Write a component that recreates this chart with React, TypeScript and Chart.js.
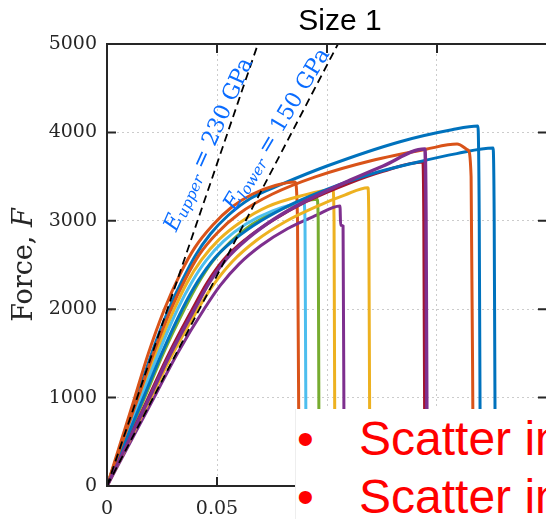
import React, { useEffect, useRef } from 'react';
import { Chart, registerables } from 'chart.js';
Chart.register(...registerables);

// ---- data ----
const xTickLabels = ['0', '0.05', '0.1', '0.15', '0.2'];
const yTickLabels = ['0', '1000', '2000', '3000', '4000', '5000'];
const titleText = 'Size 1';
const yTitleMain = 'Force, ';
const yTitleVar = 'F';
const upperLabel = ['E', 'upper', ' = 230 GPa'];
const lowerLabel = ['E', 'lower', ' = 150 GPa'];
const upperLabelAt = { x: 0.0465, y: 3860 };
const lowerLabelAt = { x: 0.0775, y: 4030 };
const bulletLines = ['Scatter in', 'Scatter in'];

const seriesColors = ['#0072BD', '#D95319', '#EDB120', '#7E2F8E', '#77AC30', '#4DBEEE', '#A2142F', '#0072BD', '#D95319', '#EDB120', '#7E2F8E'];
const seriesWidths = [3, 3, 3, 3, 3, 3, 3, 3, 3, 3, 3.5];

const c1Strain = [0, 0.0068, 0.0136, 0.0203, 0.0281, 0.0343, 0.04, 0.047, 0.055, 0.065, 0.08, 0.1, 0.1332, 0.1568, 0.1686, 0.1692, 0.1697];
const c1Force = [0, 500, 1000, 1500, 2000, 2330, 2600, 2850, 3060, 3250, 3420, 3620, 3895, 4030, 4072, 3000, 0];
const c2Strain = [0, 0.0063, 0.0126, 0.0188, 0.0261, 0.0333, 0.04, 0.048, 0.0565, 0.066, 0.0765, 0.0855, 0.0866, 0.0873];
const c2Force = [0, 500, 1000, 1500, 2000, 2400, 2700, 2950, 3150, 3300, 3400, 3440, 3000, 0];
const c3Strain = [0, 0.0074, 0.0148, 0.0222, 0.0306, 0.0364, 0.043, 0.051, 0.061, 0.073, 0.088, 0.1027, 0.1032, 0.1036];
const c3Force = [0, 500, 1000, 1500, 2000, 2300, 2560, 2790, 2990, 3160, 3280, 3350, 3000, 0];
const c4Strain = [0, 0.0107, 0.0214, 0.032, 0.0441, 0.0515, 0.06, 0.07, 0.082, 0.095, 0.1059, 0.1062, 0.1073, 0.1078];
const c4Force = [0, 500, 1000, 1500, 2000, 2270, 2510, 2720, 2910, 3060, 3167, 2950, 2940, 0];
const c5Strain = [0, 0.0085, 0.0171, 0.0256, 0.0352, 0.0414, 0.048, 0.056, 0.066, 0.079, 0.0955, 0.096, 0.0964];
const c5Force = [0, 500, 1000, 1500, 2000, 2290, 2540, 2760, 2960, 3130, 3245, 3000, 0];
const c6Strain = [0, 0.0078, 0.0156, 0.0234, 0.0321, 0.0384, 0.045, 0.053, 0.063, 0.075, 0.0895, 0.09, 0.0905];
const c6Force = [0, 500, 1000, 1500, 2000, 2300, 2550, 2770, 2960, 3110, 3200, 3000, 0];
const c7Strain = [0, 0.0094, 0.0188, 0.0282, 0.0388, 0.0455, 0.053, 0.063, 0.075, 0.09, 0.1105, 0.1255, 0.1436, 0.144, 0.1445];
const c7Force = [0, 500, 1000, 1500, 2000, 2300, 2560, 2790, 3000, 3210, 3430, 3560, 3665, 3000, 0];
const c8Strain = [0, 0.0083, 0.0166, 0.0249, 0.0342, 0.0414, 0.049, 0.058, 0.07, 0.085, 0.1014, 0.12, 0.1405, 0.159, 0.1755, 0.176, 0.1765];
const c8Force = [0, 500, 1000, 1500, 2000, 2320, 2580, 2790, 3000, 3200, 3370, 3530, 3660, 3760, 3823, 3000, 0];
const c9Strain = [0, 0.007, 0.0141, 0.0211, 0.0291, 0.0354, 0.042, 0.05, 0.06, 0.075, 0.095, 0.12, 0.145, 0.1591, 0.1641, 0.1655, 0.1665];
const c9Force = [0, 500, 1000, 1500, 2000, 2330, 2620, 2860, 3080, 3300, 3500, 3680, 3810, 3868, 3800, 3500, 0];
const c10Strain = [0, 0.01, 0.02, 0.03, 0.0413, 0.0485, 0.057, 0.068, 0.081, 0.096, 0.108, 0.1186, 0.119, 0.1195];
const c10Force = [0, 500, 1000, 1500, 2000, 2280, 2540, 2780, 2990, 3170, 3290, 3375, 3000, 0];
const c11Strain = [0, 0.0097, 0.0193, 0.0289, 0.0398, 0.0465, 0.054, 0.064, 0.076, 0.09, 0.1105, 0.1255, 0.1445, 0.145, 0.1455];
const c11Force = [0, 500, 1000, 1500, 2000, 2300, 2560, 2800, 3020, 3220, 3460, 3620, 3812, 3000, 0];

const curveStrains = [c1Strain, c2Strain, c3Strain, c4Strain, c5Strain, c6Strain, c7Strain, c8Strain, c9Strain, c10Strain, c11Strain];
const curveForces = [c1Force, c2Force, c3Force, c4Force, c5Force, c6Force, c7Force, c8Force, c9Force, c10Force, c11Force];

const upperStrain = [0, 0.0686];
const upperForce = [0, 5000];
const lowerStrain = [0, 0.105];
const lowerForce = [0, 5000];

const AXIS_COLOR = '#262626';
const SERIF = '"DejaVu Serif", serif';

function drawParts(ctx: CanvasRenderingContext2D, cx: number, cy: number, angle: number, parts: { t: string; f: string; dy: number }[], color: string) {
  ctx.save();
  ctx.translate(cx, cy);
  ctx.rotate((angle * Math.PI) / 180);
  let total = 0;
  parts.forEach((p) => { ctx.font = p.f; total += ctx.measureText(p.t).width; });
  let xx = -total / 2;
  ctx.textBaseline = 'middle';
  ctx.textAlign = 'left';
  ctx.fillStyle = color;
  parts.forEach((p) => { ctx.font = p.f; ctx.fillText(p.t, xx, p.dy); xx += ctx.measureText(p.t).width; });
  ctx.restore();
}

const decor = {
  id: 'decor',
  afterDatasetsDraw(chart: any) {
    const { ctx, chartArea: a, scales } = chart;
    const xs = scales.x, ys = scales.y;
    ctx.save();
    drawParts(ctx, xs.getPixelForValue(upperLabelAt.x), ys.getPixelForValue(upperLabelAt.y), -65.9, [
      { t: upperLabel[0], f: `italic 22px ${SERIF}`, dy: 0 },
      { t: upperLabel[1], f: `italic 15px ${SERIF}`, dy: 5 },
      { t: upperLabel[2], f: `22px ${SERIF}`, dy: 0 },
    ], '#0a6cff');
    drawParts(ctx, xs.getPixelForValue(lowerLabelAt.x), ys.getPixelForValue(lowerLabelAt.y), -59, [
      { t: lowerLabel[0], f: `italic 22px ${SERIF}`, dy: 0 },
      { t: lowerLabel[1], f: `italic 15px ${SERIF}`, dy: 5 },
      { t: lowerLabel[2], f: `22px ${SERIF}`, dy: 0 },
    ], '#0a6cff');
    ctx.strokeStyle = AXIS_COLOR;
    ctx.lineWidth = 2;
    ctx.strokeRect(a.left, a.top, a.right - a.left, a.bottom - a.top);
    ctx.beginPath();
    const tl = 9;
    xs.ticks.forEach((t: any) => {
      const px = xs.getPixelForValue(t.value);
      ctx.moveTo(px, a.bottom); ctx.lineTo(px, a.bottom - tl);
      ctx.moveTo(px, a.top); ctx.lineTo(px, a.top + tl);
    });
    ys.ticks.forEach((t: any) => {
      const py = ys.getPixelForValue(t.value);
      ctx.moveTo(a.left, py); ctx.lineTo(a.left + tl, py);
      ctx.moveTo(a.right, py); ctx.lineTo(a.right - tl, py);
    });
    ctx.stroke();
    drawParts(ctx, 25, (a.top + a.bottom) / 2, -90, [
      { t: yTitleMain, f: `27px ${SERIF}`, dy: 0 },
      { t: yTitleVar, f: `italic 27px ${SERIF}`, dy: 0 },
    ], AXIS_COLOR);
    ctx.font = '30px "Liberation Sans", Arial, sans-serif';
    ctx.fillStyle = '#000';
    ctx.textAlign = 'center';
    ctx.textBaseline = 'middle';
    ctx.fillText(titleText, 340, 22);
    ctx.restore();
  },
};

export default function App() {
  const ref = useRef<HTMLCanvasElement>(null);
  useEffect(() => {
    const datasets: any[] = curveStrains.map((s, i) => ({
      data: s.map((v, j) => ({ x: v, y: curveForces[i][j] })),
      borderColor: seriesColors[i],
      borderWidth: seriesWidths[i],
      pointRadius: 0,
      fill: false,
      cubicInterpolationMode: 'monotone',
      order: 100 - i,
    }));
    datasets.push({
      data: upperStrain.map((v, j) => ({ x: v, y: upperForce[j] })),
      borderColor: '#000', borderWidth: 1.8, borderDash: [8, 5], pointRadius: 0, fill: false, order: -10,
    });
    datasets.push({
      data: lowerStrain.map((v, j) => ({ x: v, y: lowerForce[j] })),
      borderColor: '#000', borderWidth: 1.8, borderDash: [8, 5], pointRadius: 0, fill: false, order: -10,
    });
    const chart = new Chart(ref.current!, {
      type: 'line',
      data: { datasets },
      plugins: [decor],
      options: {
        responsive: false,
        devicePixelRatio: 1,
        animation: false,
        layout: { padding: { left: 0, right: 33, top: 44, bottom: 0 } },
        plugins: { legend: { display: false }, tooltip: { enabled: false }, title: { display: false } },
        scales: {
          x: {
            type: 'linear', min: 0, max: 0.2,
            afterFit: (s: any) => { s.height = 33; },
            ticks: {
              stepSize: 0.05, autoSkip: false, maxRotation: 0, padding: 12,
              color: AXIS_COLOR, font: { family: 'DejaVu Serif', size: 19 },
              callback: (_v: any, i: number) => xTickLabels[i],
            },
            grid: { drawTicks: false, color: 'rgba(0,0,0,0.2)', lineWidth: 1 },
            border: { display: false, dash: [2, 3] },
          },
          y: {
            type: 'linear', min: 0, max: 5000,
            afterFit: (s: any) => { s.width = 107; },
            ticks: {
              stepSize: 1000, padding: 10,
              color: AXIS_COLOR, font: { family: 'DejaVu Serif', size: 19 },
              callback: (_v: any, i: number) => yTickLabels[i],
            },
            grid: { drawTicks: false, color: 'rgba(0,0,0,0.2)', lineWidth: 1 },
            border: { display: false, dash: [2, 3] },
          },
        },
      } as any,
    });
    return () => chart.destroy();
  }, []);

  const lineStyle = (top: number): React.CSSProperties => ({
    position: 'absolute', left: 1, top, height: 48, lineHeight: '48px', whiteSpace: 'nowrap',
    fontFamily: '"Liberation Sans", Arial, sans-serif', fontSize: 48, color: '#ff0000',
  });

  return (
    <div style={{ position: 'absolute', left: 0, top: 0, width: 546, height: 519, overflow: 'hidden', background: '#fff' }}>
      <canvas ref={ref} width={580} height={519} style={{ position: 'absolute', left: 0, top: 0, width: 580, height: 519 }} />
      <div style={{ position: 'absolute', left: 295, top: 409, width: 260, height: 120, background: '#fff', borderLeft: '1px solid #eeeeee' }}>
        {bulletLines.map((t, i) => (
          <div key={i} style={lineStyle(6 + i * 58)}>
            <span>•</span>
            <span style={{ position: 'absolute', left: 62 }}>{t}</span>
          </div>
        ))}
      </div>
    </div>
  );
}
